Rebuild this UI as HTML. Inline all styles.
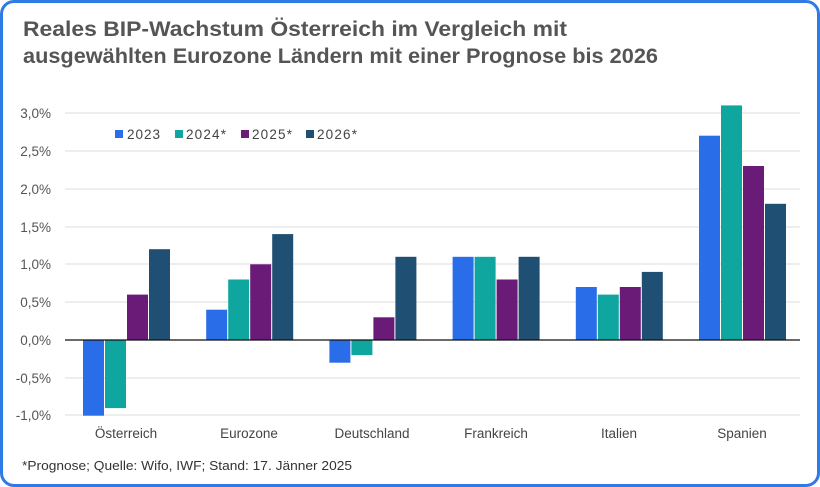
<!DOCTYPE html>
<html><head><meta charset="utf-8"><style>
html,body{margin:0;padding:0;background:#fff}
.w{position:relative;width:814px;height:481px;border:3px solid #2f7ae6;border-radius:14px;overflow:hidden;font-family:"Liberation Sans",sans-serif}
svg{position:absolute;left:-3px;top:-3px}
</style></head><body><div class="w">
<svg width="820" height="487" viewBox="0 0 820 487" font-family="Liberation Sans, sans-serif">
<text x="23" y="36" font-size="21.5" font-weight="bold" fill="#555" textLength="544" lengthAdjust="spacingAndGlyphs">Reales BIP-Wachstum Österreich im Vergleich mit</text>
<text x="23" y="63" font-size="21.5" font-weight="bold" fill="#555" textLength="635" lengthAdjust="spacingAndGlyphs">ausgewählten Eurozone Ländern mit einer Prognose bis 2026</text>
<g stroke="#e3e3e3" stroke-width="1.2">
<line x1="65" x2="800" y1="113" y2="113"/><line x1="65" x2="800" y1="151" y2="151"/><line x1="65" x2="800" y1="189" y2="189"/><line x1="65" x2="800" y1="227" y2="227"/><line x1="65" x2="800" y1="264" y2="264"/><line x1="65" x2="800" y1="302" y2="302"/><line x1="65" x2="800" y1="378" y2="378"/><line x1="65" x2="800" y1="415" y2="415"/>
</g>
<g font-size="13.5" fill="#555" text-anchor="end">
<text x="51" y="118">3,0%</text><text x="51" y="156">2,5%</text><text x="51" y="194">2,0%</text><text x="51" y="232">1,5%</text><text x="51" y="269">1,0%</text><text x="51" y="307">0,5%</text><text x="51" y="345">0,0%</text><text x="51" y="383">-0,5%</text><text x="51" y="420">-1,0%</text>
</g>
<g>
<rect x="83" y="340" width="21" height="75.7" fill="#2a6de8"/><rect x="105" y="340" width="21" height="68.1" fill="#0ea69e"/><rect x="127" y="294.6" width="21" height="45.4" fill="#6a1b78"/><rect x="149" y="249.2" width="21" height="90.8" fill="#1f4f72"/>
<rect x="206.2" y="309.7" width="21" height="30.3" fill="#2a6de8"/><rect x="228.2" y="279.5" width="21" height="60.5" fill="#0ea69e"/><rect x="250.2" y="264.3" width="21" height="75.7" fill="#6a1b78"/><rect x="272.2" y="234.1" width="21" height="105.9" fill="#1f4f72"/>
<rect x="329.4" y="340" width="21" height="22.7" fill="#2a6de8"/><rect x="351.4" y="340" width="21" height="15.1" fill="#0ea69e"/><rect x="373.4" y="317.3" width="21" height="22.7" fill="#6a1b78"/><rect x="395.4" y="256.8" width="21" height="83.2" fill="#1f4f72"/>
<rect x="452.6" y="256.8" width="21" height="83.2" fill="#2a6de8"/><rect x="474.6" y="256.8" width="21" height="83.2" fill="#0ea69e"/><rect x="496.6" y="279.5" width="21" height="60.5" fill="#6a1b78"/><rect x="518.6" y="256.8" width="21" height="83.2" fill="#1f4f72"/>
<rect x="575.8" y="287" width="21" height="53" fill="#2a6de8"/><rect x="597.8" y="294.6" width="21" height="45.4" fill="#0ea69e"/><rect x="619.8" y="287" width="21" height="53" fill="#6a1b78"/><rect x="641.8" y="271.9" width="21" height="68.1" fill="#1f4f72"/>
<rect x="699" y="135.7" width="21" height="204.3" fill="#2a6de8"/><rect x="721" y="105.4" width="21" height="234.6" fill="#0ea69e"/><rect x="743" y="166" width="21" height="174" fill="#6a1b78"/><rect x="765" y="203.8" width="21" height="136.2" fill="#1f4f72"/>
</g>
<line x1="65" x2="800" y1="340" y2="340" stroke="#111" stroke-width="1.3"/>
<g font-size="13.5" fill="#444">
<rect x="115" y="130" width="8" height="8" fill="#2a6de8"/><text x="127" y="139" textLength="33">2023</text>
<rect x="175" y="130" width="8" height="8" fill="#0ea69e"/><text x="186" y="139" textLength="40">2024*</text>
<rect x="241" y="130" width="8" height="8" fill="#6a1b78"/><text x="252" y="139" textLength="40">2025*</text>
<rect x="306" y="130" width="8" height="8" fill="#1f4f72"/><text x="317" y="139" textLength="40">2026*</text>
</g>
<g font-size="13.5" fill="#444" text-anchor="middle">
<text x="126" y="438">Österreich</text><text x="249" y="438">Eurozone</text><text x="372" y="438">Deutschland</text><text x="496" y="438">Frankreich</text><text x="619" y="438">Italien</text><text x="742" y="438">Spanien</text>
</g>
<text x="22" y="470" font-size="13" fill="#333" textLength="330" lengthAdjust="spacingAndGlyphs">*Prognose; Quelle: Wifo, IWF; Stand: 17. Jänner 2025</text>
</svg></div></body></html>
